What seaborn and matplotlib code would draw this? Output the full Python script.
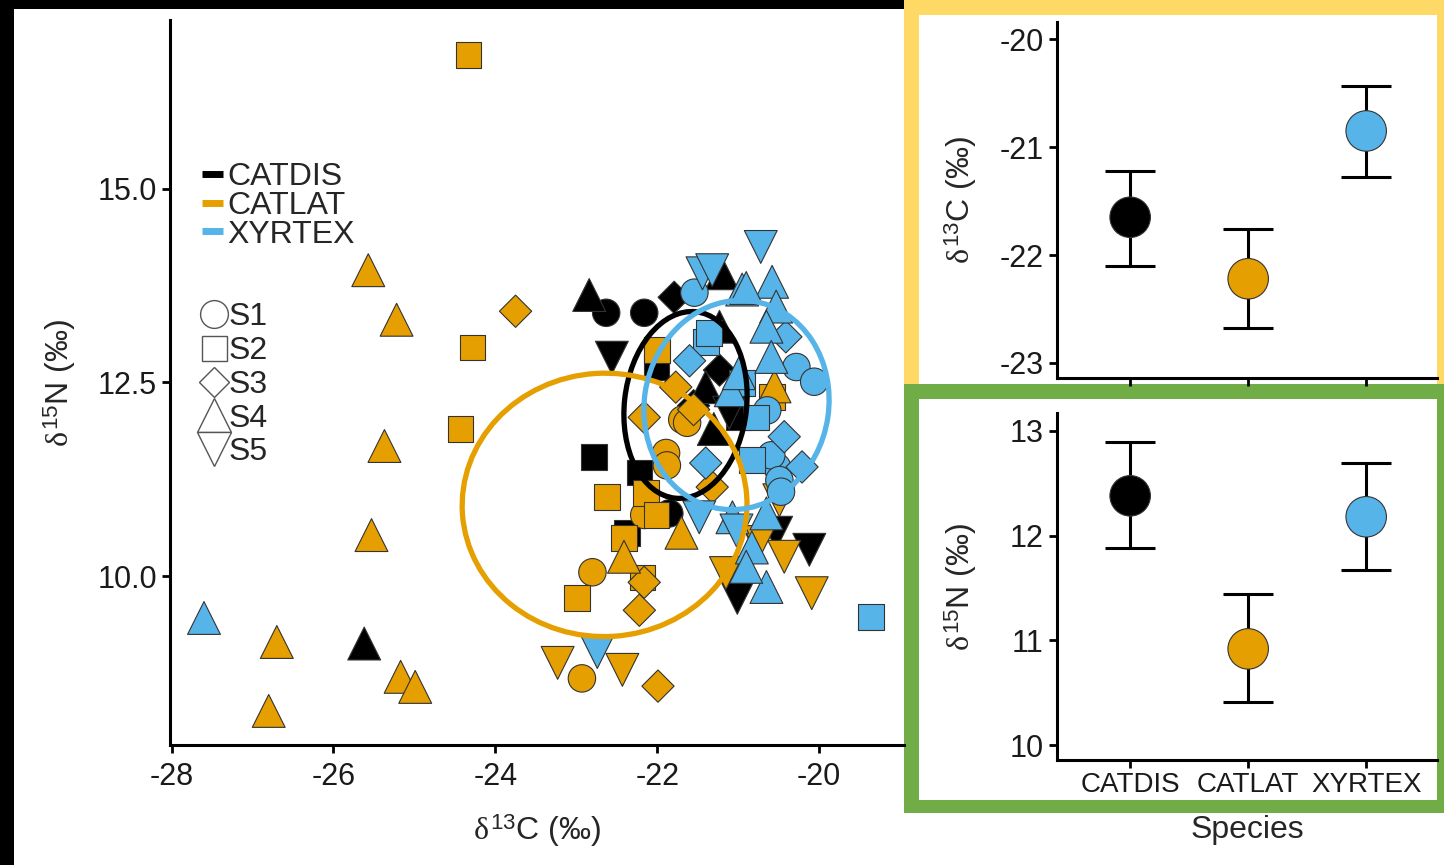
import numpy as np
import pandas as pd
import matplotlib
matplotlib.use("Agg")
import matplotlib.pyplot as plt
from matplotlib.patches import Ellipse, Rectangle
from matplotlib.lines import Line2D
import seaborn as sns

# ── Style setup ────────────────────────────────────────────────
sns.set_theme(style="ticks")
plt.rcParams.update({
    "font.family":        ["Liberation Sans", "DejaVu Sans"],
    "mathtext.fontset":   "custom",
    "mathtext.rm":        "Liberation Sans",
    "mathtext.it":        "Liberation Serif",
    "mathtext.sf":        "Liberation Sans",
    "axes.unicode_minus": False,
    "axes.linewidth":     2.2,
    "axes.edgecolor":     "black",
    "xtick.major.width":  2.0,
    "ytick.major.width":  2.0,
    "xtick.major.size":   6,
    "ytick.major.size":   6,
    "xtick.major.pad":    6,
    "xtick.color":        "black",
    "ytick.color":        "black",
    "xtick.labelcolor":   "#1a1a1a",
    "ytick.labelcolor":   "#1a1a1a",
    "xtick.labelsize":    22,
    "ytick.labelsize":    22,
})

SPECIES = ["CATDIS", "CATLAT", "XYRTEX"]
SITES   = ["S1", "S2", "S3", "S4", "S5"]
PALETTE = ["#000000", "#E69F00", "#56B4E9"]
MARKERS = {"S1": "o", "S2": "s", "S3": "D", "S4": "^", "S5": "v"}
SIZES   = {"S1": 390, "S2": 340, "S3": 270, "S4": 560, "S5": 560}

# ── Data: individual isotope values ────────────────────────────
CATDIS_SITE = ["S1", "S1", "S1",
               "S2", "S2", "S2", "S2", "S2",
               "S3", "S3", "S3",
               "S4", "S4", "S4", "S4", "S4", "S4",
               "S5", "S5", "S5", "S5", "S5", "S5"]
CATDIS_C = [-22.63, -22.16, -21.85,
            -22.78, -22.22, -22.37, -22.01, -20.99,
            -21.79, -21.23, -21.55,
            -22.84, -21.20, -25.62, -21.40, -21.23, -21.30,
            -22.56, -20.53, -20.12, -21.01, -21.11, -20.75]
CATDIS_N = [13.40, 13.40, 10.81,
            11.54, 11.34, 10.56, 12.70, 12.05,
            13.60, 12.66, 12.20,
            13.63, 13.91, 9.13, 12.44, 13.22, 11.90,
            12.82, 10.56, 10.34, 9.72, 12.11, 10.44]

CATLAT_SITE = ["S1"] * 7 + ["S2"] * 11 + ["S3"] * 8 + ["S4"] * 11 + ["S5"] * 7
CATLAT_C = [-22.80, -22.93, -22.16, -21.89, -21.88, -21.69, -21.63,
            -24.33, -24.28, -24.43, -22.99, -22.41, -22.18, -22.62, -22.14, -22.01, -22.00, -20.58,
            -23.75, -22.16, -22.22, -21.99, -22.16, -21.32, -21.77, -21.55,
            -25.57, -25.22, -25.37, -25.53, -26.70, -26.80, -25.17, -24.99, -22.41, -21.70, -20.55,
            -23.23, -22.43, -20.43, -20.09, -21.15, -20.74, -20.49]
CATLAT_N = [10.05, 8.68, 10.79, 11.59, 11.43, 12.02, 11.98,
            16.73, 12.95, 11.90, 9.72, 10.49, 9.98, 11.02, 11.07, 10.79, 12.92, 12.31,
            13.42, 9.92, 9.56, 8.58, 12.05, 11.15, 12.44, 12.15,
            13.95, 13.31, 11.68, 10.53, 9.15, 8.26, 8.70, 8.57, 10.25, 10.56, 12.45,
            8.88, 8.79, 10.25, 9.78, 10.04, 10.44, 10.98]

XYRTEX_SITE = ["S1"] * 8 + ["S2"] * 6 + ["S3"] * 5 + ["S4"] * 14 + ["S5"] * 6
XYRTEX_C = [-21.54, -20.28, -20.06, -20.64, -20.52, -20.59, -20.49, -20.47,
            -21.40, -20.83, -21.36, -20.95, -20.78, -19.36,
            -21.60, -21.40, -20.41, -20.43, -20.21,
            -20.95, -20.58, -20.53, -20.65, -20.59, -21.09, -20.99, -20.65, -20.65, -27.60,
            -21.07, -20.83, -20.90, -20.90,
            -21.44, -20.72, -21.48, -22.74, -21.02, -21.32]
XYRTEX_N = [13.66, 12.70, 12.51, 12.14, 11.41, 11.56, 11.24, 11.09,
            13.02, 11.50, 13.14, 12.49, 12.05, 9.47,
            12.78, 11.46, 13.09, 11.80, 11.41,
            13.70, 13.80, 13.48, 13.22, 12.83, 12.40, 12.62, 10.81, 9.86, 9.46,
            10.76, 10.37, 10.12, 13.72,
            13.91, 14.25, 10.76, 9.02, 10.59, 13.95]

# standard ellipses (centre, width, height in ‰, rotation in degrees)
ELL_CX    = [-21.65, -22.65, -21.02]
ELL_CY    = [12.21, 10.92, 12.21]
ELL_W     = [1.51, 3.52, 2.28]
ELL_H     = [2.42, 3.40, 2.71]
ELL_ANGLE = [-6, 4, -8]

# species means with 95% CI
C_MEAN = [-21.65, -22.22, -20.85]
C_LOW  = [-22.10, -22.68, -21.28]
C_HIGH = [-21.22, -21.76, -20.43]
N_MEAN = [12.38, 10.92, 12.18]
N_LOW  = [11.88, 10.41, 11.67]
N_HIGH = [12.89, 11.44, 12.69]

df = pd.concat([
    pd.DataFrame({"species": "CATDIS", "site": CATDIS_SITE, "d13C": CATDIS_C, "d15N": CATDIS_N}),
    pd.DataFrame({"species": "CATLAT", "site": CATLAT_SITE, "d13C": CATLAT_C, "d15N": CATLAT_N}),
    pd.DataFrame({"species": "XYRTEX", "site": XYRTEX_SITE, "d13C": XYRTEX_C, "d15N": XYRTEX_N}),
], ignore_index=True)

# ── Figure & frames ────────────────────────────────────────────
W, H = 1444, 865
fig = plt.figure(figsize=(W / 100, H / 100), dpi=100, facecolor="white")


def px_box(x0, y0, x1, y1):
    # pixel box (origin top-left) -> figure fraction [left, bottom, width, height]
    return [x0 / W, 1 - y1 / H, (x1 - x0) / W, (y1 - y0) / H]


def frame(x0, y0, x1, y1, color, z):
    l, b, w, h = px_box(x0, y0, x1, y1)
    fig.add_artist(Rectangle((l, b), w, h, transform=fig.transFigure,
                             facecolor=color, edgecolor="none", zorder=z))


frame(0, 0, 14, H, "black", -3)
frame(0, 0, 904, 9, "black", -3)
frame(904, 0, W, 384, "#FFD966", -2)
frame(919, 15, 1437, 384, "white", -1.5)
frame(904, 384, W, 813, "#70AD47", -1)
frame(919, 399, 1437, 800, "white", -0.5)

ax  = fig.add_axes(px_box(170, 20, 904, 745))
axc = fig.add_axes(px_box(1057, 22, 1437, 378))
axn = fig.add_axes(px_box(1057, 413, 1437, 760))

# ══════════════════════════════════════════════════════════════
# Biplot with standard ellipses
# ══════════════════════════════════════════════════════════════
sns.scatterplot(data=df, x="d13C", y="d15N", hue="species", style="site", size="site",
                hue_order=SPECIES, palette=PALETTE, markers=MARKERS, sizes=SIZES,
                style_order=SITES, size_order=SITES, edgecolor="#333333",
                linewidth=0.8, alpha=1, legend=False, ax=ax, zorder=2)

for cx, cy, w, h, a, c in zip(ELL_CX, ELL_CY, ELL_W, ELL_H, ELL_ANGLE, PALETTE):
    ax.add_patch(Ellipse((cx, cy), w, h, angle=a, fill=False, edgecolor=c, lw=3.8, zorder=3))

ax.set_xlim(-28.02, -18.95)
ax.set_ylim(7.82, 17.18)
ax.set_xticks([-28, -26, -24, -22, -20])
ax.set_yticks([10.0, 12.5, 15.0])
ax.set_yticklabels(["10.0", "12.5", "15.0"])
ax.set_xlabel(r"$\delta^{13}$C (‰)", fontsize=23, labelpad=15)
ax.set_ylabel(r"$\delta^{15}$N (‰)", fontsize=23, labelpad=14)
sns.despine(ax=ax)

sp_handles = [Line2D([], [], color=c, lw=5, solid_capstyle="butt") for c in PALETTE]
leg1 = ax.legend(sp_handles, SPECIES, loc="upper left", bbox_to_anchor=(0.043, 0.804),
                 frameon=False, fontsize=23, handlelength=0.68, handletextpad=0.12,
                 labelspacing=-0.04, borderpad=0, borderaxespad=0)
ax.add_artist(leg1)

LEG_MS = {"S1": 20, "S2": 18, "S3": 15, "S4": 24, "S5": 24}
site_handles = [Line2D([], [], ls="", marker=MARKERS[s], ms=LEG_MS[s], mfc="white",
                       mec="#555555", mew=1.0) for s in SITES]
ax.legend(site_handles, SITES, loc="upper left", bbox_to_anchor=(0.043, 0.611),
          frameon=False, fontsize=23, handlelength=0.8, handletextpad=0.05,
          labelspacing=0.12, borderpad=0, borderaxespad=0)

# ══════════════════════════════════════════════════════════════
# Species means ± CI
# ══════════════════════════════════════════════════════════════
panels = [
    (axc, C_MEAN, C_LOW, C_HIGH, (-23.14, -19.84), [-23, -22, -21, -20], r"$\delta^{13}$C (‰)"),
    (axn, N_MEAN, N_LOW, N_HIGH, (9.86, 13.17), [10, 11, 12, 13], r"$\delta^{15}$N (‰)"),
]
for axp, mean, low, high, ylim, ticks, label in panels:
    mean = np.array(mean)
    yerr = [mean - np.array(low), np.array(high) - mean]
    axp.errorbar(SPECIES, mean, yerr=yerr, fmt="none", ecolor="black",
                 elinewidth=2.2, capsize=18, capthick=2.2, zorder=2)
    sns.scatterplot(x=SPECIES, y=mean, hue=SPECIES, palette=PALETTE, s=850,
                    edgecolor="#333333", linewidth=0.8, legend=False, ax=axp, zorder=3)
    axp.set_xlim(-0.62, 2.6)
    axp.set_ylim(*ylim)
    axp.set_yticks(ticks)
    axp.set_ylabel(label, fontsize=23)
    axp.yaxis.set_label_coords(-0.205, 0.5)
    sns.despine(ax=axp)

axc.set_xticklabels([])
axc.set_xlabel("")
axn.tick_params(axis="x", labelsize=20, pad=3)
axn.set_xlabel("Species", fontsize=23, labelpad=12)

fig.savefig("out.png", dpi=100, facecolor="white")
